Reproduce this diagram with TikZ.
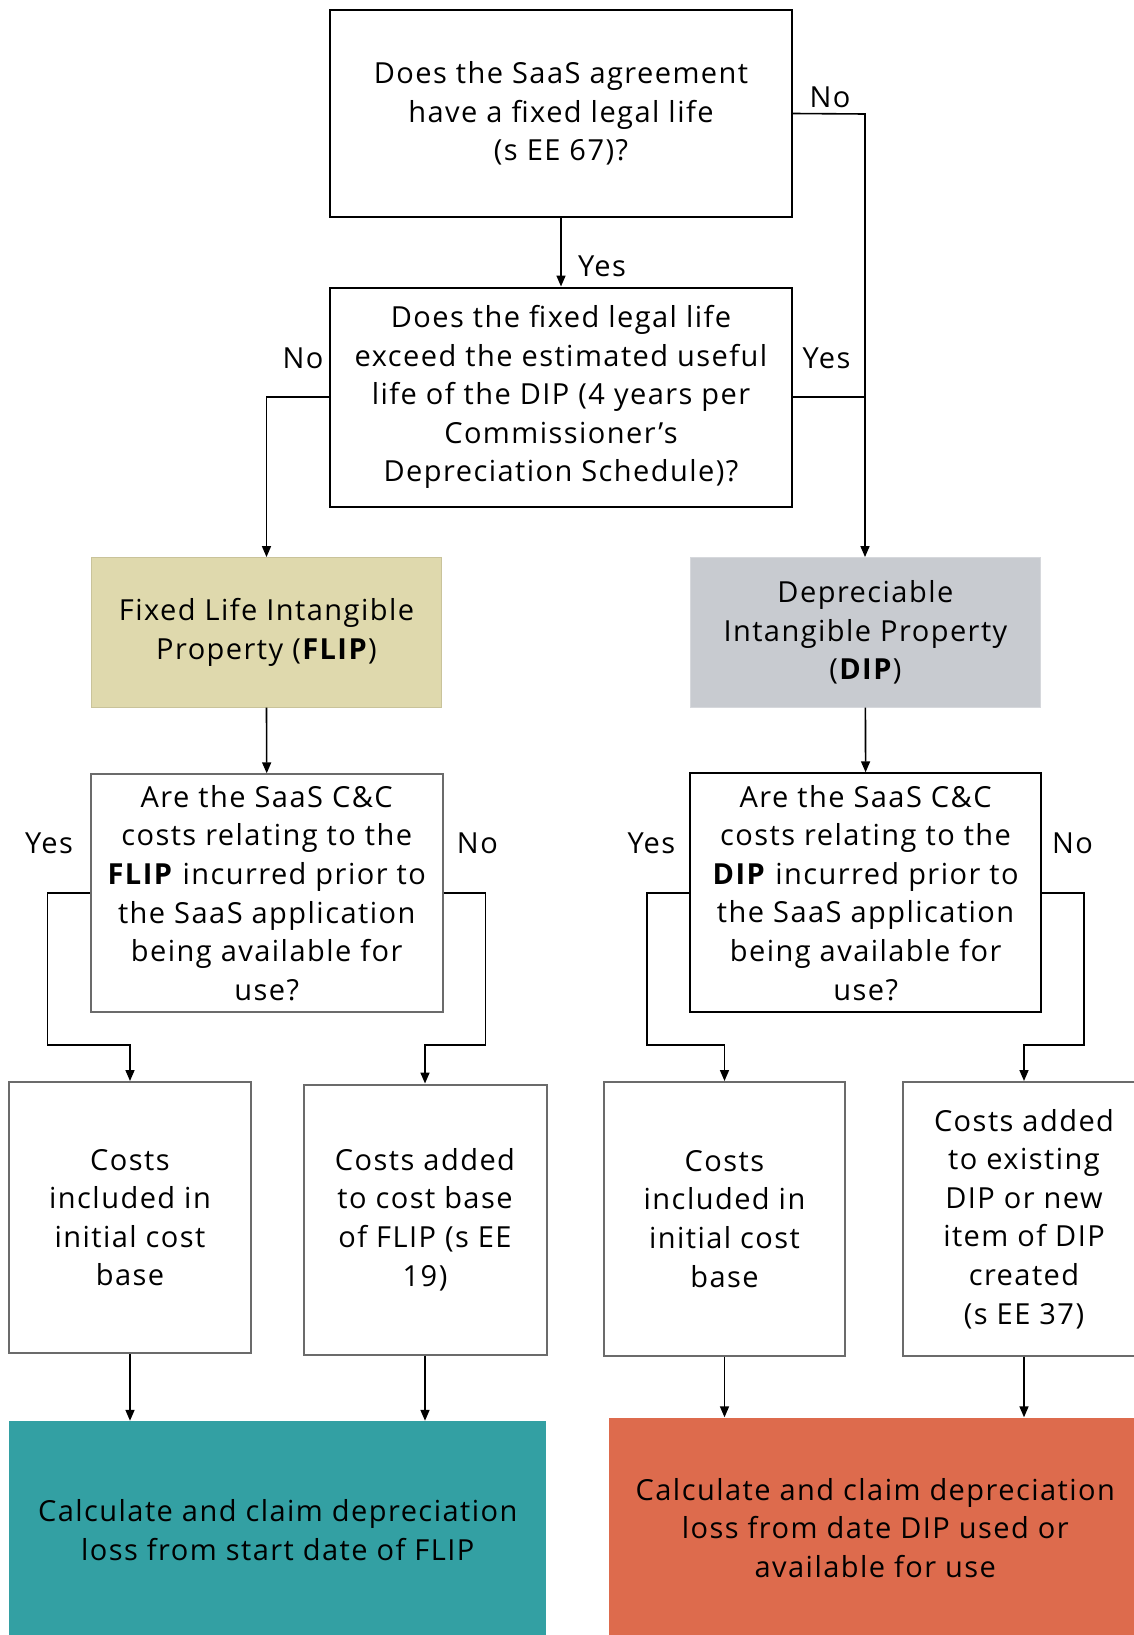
\documentclass[tikz,border=0pt]{standalone}
\usepackage{fontspec}
\setmainfont[LetterSpace=5]{Open Sans}
\usetikzlibrary{arrows.meta}
\definecolor{flipc}{HTML}{DFD9AD}
\definecolor{flipbd}{HTML}{C9C39A}
\definecolor{dipc}{HTML}{C8CBD0}
\definecolor{dipbd}{HTML}{D6D8DC}
\definecolor{tealc}{HTML}{33A0A3}
\definecolor{orangec}{HTML}{DD6B4D}
\definecolor{graybd}{HTML}{6B6B6B}
\newcommand\diafont{\fontsize{29}{38.6}\selectfont}
\begin{document}
\begin{tikzpicture}[x=1pt,y=-1pt,
  every node/.style={inner sep=0pt, align=center, font=\diafont},
  qbox/.style={draw=black, line width=2pt},
  obox/.style={draw=graybd, line width=2pt},
  flipbox/.style={fill=flipc, draw=flipbd, line width=1pt},
  dipbox/.style={fill=dipc, draw=dipbd, line width=1pt},
  endbox/.style={draw=none},
  arr/.style={line width=1.6pt, -{Triangle[length=11pt,width=9pt]}},
  ln/.style={line width=1.6pt},
  lbl/.style={inner sep=0pt}]
\useasboundingbox[fill=white] (0,0) rectangle (1134,1635);

% top questions
\node[qbox, minimum width=462pt, minimum height=207pt] (q1) at (561,113.5)
  {Does the SaaS agreement\\have a fixed legal life\\(s EE 67)?};
\node[qbox, minimum width=462pt, minimum height=219pt] (q2) at (561,397)
  {Does the fixed legal life\\exceed the estimated useful\\life of the DIP (4 years per\\Commissioner’s\\Depreciation Schedule)?};

% property boxes
\node[flipbox, minimum width=349.5pt, minimum height=149.5pt] (flip) at (266.5,632.3)
  {Fixed Life Intangible\\Property (\textbf{FLIP})};
\node[dipbox, minimum width=350.8pt, minimum height=149.5pt] (dip) at (865.4,632.3)
  {Depreciable\\Intangible Property\\(\textbf{DIP})};

% second questions
\node[obox, minimum width=352pt, minimum height=237.4pt] (qf) at (266.7,893)
  {Are the SaaS C\&C\\costs relating to the\\\textbf{FLIP} incurred prior to\\the SaaS application\\being available for\\use?};
\node[qbox, minimum width=350.8pt, minimum height=239pt] (qd) at (865.6,892.8)
  {Are the SaaS C\&C\\costs relating to the\\\textbf{DIP} incurred prior to\\the SaaS application\\being available for\\use?};

% cost boxes
\node[obox, minimum width=242pt, minimum height=271.4pt] (ca) at (130,1217.7)
  {Costs\\included in\\initial cost\\base};
\node[obox, minimum width=243pt, minimum height=270pt] (cb) at (425,1219.5)
  {Costs added\\to cost base\\of FLIP (s EE\\19)};
\node[obox, minimum width=241.5pt, minimum height=273.6pt] (cc) at (724.5,1218.8)
  {Costs\\included in\\initial cost\\base};
\node[obox, minimum width=243pt, minimum height=273.6pt] (cd) at (1024,1218.8)
  {Costs added\\to existing\\DIP or new\\item of DIP\\created\\(s EE 37)};

% end boxes
\node[endbox, fill=tealc, minimum width=536.6pt, minimum height=218pt] (et) at (277.7,1530)
  {Calculate and claim depreciation\\loss from start date of FLIP};
\node[endbox, fill=orangec, minimum width=533pt, minimum height=221pt] (eo) at (875.3,1528)
  {Calculate and claim depreciation\\loss from date DIP used or\\available for use};

% connectors
\coordinate (rdrop) at (865,114);
\draw[arr] (q1.south) -- (q2.north);
\draw[arr] (q1.east) -- (rdrop) -- (rdrop |- dip.north);
\draw[ln] (q2.east) -- (q2.east -| rdrop);
\draw[arr] (q2.west) -| (flip.north);
\draw[arr] (flip.south) -- (qf.north);
\draw[arr] (dip.south) -- (qd.north);

\draw[arr] (qf.west) -| (47.5,1045) -| (ca.north);
\draw[arr] (qf.east) -| (485.5,1045) -| (cb.north);
\draw[arr] (qd.west) -| (647,1045) -| (cc.north);
\draw[arr] (qd.east) -| (1084,1045) -| (cd.north);

\draw[arr] (ca.south) -- (ca.south |- et.north);
\draw[arr] (cb.south) -- (cb.south |- et.north);
\draw[arr] (cc.south) -- (cc.south |- eo.north);
\draw[arr] (cd.south) -- (cd.south |- eo.north);

% labels
\node[lbl] (l1) at (830,97) {No};
\node[lbl] (l2) at (602,266) {Yes};
\node[lbl] (l3) at (303,358.5) {No};
\node[lbl] (l4) at (826.5,358.5) {Yes};
\node[lbl] (l5) at (49,843) {Yes};
\node[lbl] (l6) at (477.4,843) {No};
\node[lbl] (l7) at (651.4,843) {Yes};
\node[lbl] (l8) at (1072.5,843) {No};
\end{tikzpicture}
\end{document}
